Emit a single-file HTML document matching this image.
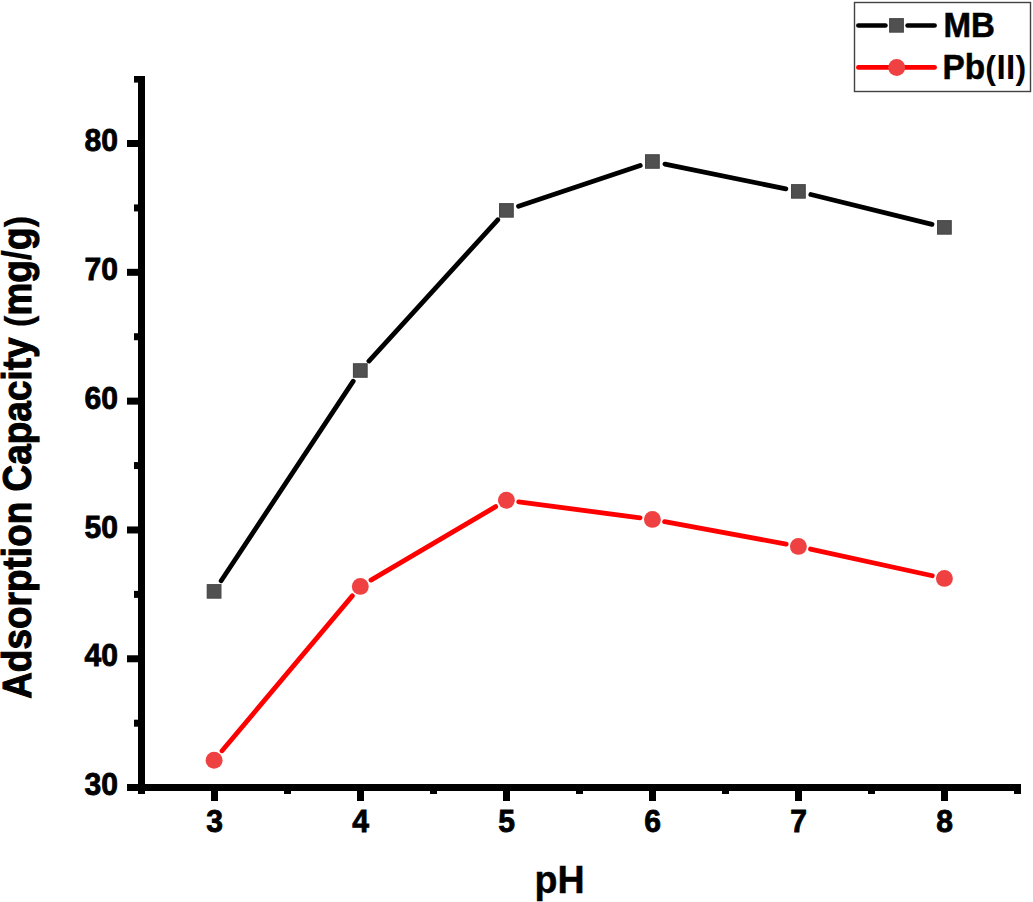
<!DOCTYPE html>
<html><head><meta charset="utf-8"><title>Adsorption Capacity vs pH</title>
<style>html,body{margin:0;padding:0;background:#fff;width:1033px;height:902px;overflow:hidden}svg{display:block}</style>
</head><body>
<svg width="1033" height="902" viewBox="0 0 1033 902">
<rect width="1033" height="902" fill="#fff"/>
<g fill="#000">
<rect x="138" y="76" width="7" height="718"/>
<rect x="138" y="784" width="883" height="7"/>
<rect x="127" y="784" width="11" height="7"/>
<rect x="127" y="655.28" width="11" height="7"/>
<rect x="127" y="526.46" width="11" height="7"/>
<rect x="127" y="397.64" width="11" height="7"/>
<rect x="127" y="268.82" width="11" height="7"/>
<rect x="127" y="140.00" width="11" height="7"/>
<rect x="134" y="719.69" width="4" height="7"/>
<rect x="134" y="590.87" width="4" height="7"/>
<rect x="134" y="462.05" width="4" height="7"/>
<rect x="134" y="333.23" width="4" height="7"/>
<rect x="134" y="204.41" width="4" height="7"/>
<rect x="134" y="76" width="4" height="6.6"/>
<rect x="211.00" y="791" width="7" height="10"/>
<rect x="357.00" y="791" width="7" height="10"/>
<rect x="503.00" y="791" width="7" height="10"/>
<rect x="649.00" y="791" width="7" height="10"/>
<rect x="795.00" y="791" width="7" height="10"/>
<rect x="941.00" y="791" width="7" height="10"/>
<rect x="138.00" y="791" width="7" height="3"/>
<rect x="284.00" y="791" width="7" height="3"/>
<rect x="430.00" y="791" width="7" height="3"/>
<rect x="576.00" y="791" width="7" height="3"/>
<rect x="722.00" y="791" width="7" height="3"/>
<rect x="868.00" y="791" width="7" height="3"/>
<rect x="1014.00" y="791" width="7" height="3"/>
</g>
<g font-family="Liberation Sans, sans-serif" font-weight="bold" font-size="30.1" fill="#000" stroke="#000" stroke-width="0.8">
<text text-anchor="end" transform="translate(117.9,795.20) scale(1,1.05)">30</text>
<text text-anchor="end" transform="translate(117.9,666.38) scale(1,1.05)">40</text>
<text text-anchor="end" transform="translate(117.9,537.56) scale(1,1.05)">50</text>
<text text-anchor="end" transform="translate(117.9,408.74) scale(1,1.05)">60</text>
<text text-anchor="end" transform="translate(117.9,279.92) scale(1,1.05)">70</text>
<text text-anchor="end" transform="translate(117.9,151.10) scale(1,1.05)">80</text>
<text text-anchor="middle" transform="translate(214.50,832.3) scale(1,1.05)">3</text>
<text text-anchor="middle" transform="translate(360.50,832.3) scale(1,1.05)">4</text>
<text text-anchor="middle" transform="translate(506.50,832.3) scale(1,1.05)">5</text>
<text text-anchor="middle" transform="translate(652.50,832.3) scale(1,1.05)">6</text>
<text text-anchor="middle" transform="translate(798.50,832.3) scale(1,1.05)">7</text>
<text text-anchor="middle" transform="translate(944.50,832.3) scale(1,1.05)">8</text>
</g>
<text font-family="Liberation Sans, sans-serif" font-weight="bold" font-size="37.6" stroke="#000" stroke-width="0.4" transform="translate(534.6,892.6) scale(1,1.035)">pH</text>
<text font-family="Liberation Sans, sans-serif" font-weight="bold" font-size="36.8" stroke="#000" stroke-width="1" letter-spacing="0.09" transform="translate(30.6,698.8) rotate(-90) scale(1,1.10)">Adsorption Capacity <tspan font-size="34" stroke-width="0.3">(</tspan>mg<tspan stroke-width="0.2">/</tspan>g<tspan font-size="34" stroke-width="0.3">)</tspan></text>
<g fill="none" stroke-linecap="round" stroke-width="4.8">
<line x1="221.16" y1="580.73" x2="353.24" y2="381.17" stroke="#000"/>
<line x1="368.93" y1="361.05" x2="497.77" y2="219.85" stroke="#000"/>
<line x1="518.54" y1="206.33" x2="640.26" y2="165.57" stroke="#000"/>
<line x1="664.94" y1="164.07" x2="785.86" y2="188.83" stroke="#000"/>
<line x1="810.83" y1="194.46" x2="931.97" y2="224.34" stroke="#000"/>
<line x1="222.08" y1="750.81" x2="352.32" y2="595.89" stroke="#f00"/>
<line x1="370.98" y1="580.10" x2="495.72" y2="506.60" stroke="#f00"/>
<line x1="518.70" y1="501.91" x2="640.10" y2="517.79" stroke="#f00"/>
<line x1="664.59" y1="521.65" x2="786.21" y2="544.15" stroke="#f00"/>
<line x1="810.51" y1="549.05" x2="932.29" y2="575.75" stroke="#f00"/>
</g>
<rect x="207.30" y="584.70" width="13.6" height="13.4" fill="#505050" stroke="#484848" stroke-width="1.2"/>
<rect x="353.50" y="363.80" width="13.6" height="13.4" fill="#505050" stroke="#484848" stroke-width="1.2"/>
<rect x="499.60" y="203.70" width="13.6" height="13.4" fill="#505050" stroke="#484848" stroke-width="1.2"/>
<rect x="645.60" y="154.80" width="13.6" height="13.4" fill="#505050" stroke="#484848" stroke-width="1.2"/>
<rect x="791.60" y="184.70" width="13.6" height="13.4" fill="#505050" stroke="#484848" stroke-width="1.2"/>
<rect x="937.60" y="220.70" width="13.6" height="13.4" fill="#505050" stroke="#484848" stroke-width="1.2"/>
<circle cx="214.10" cy="760.30" r="8.45" fill="#ef4141"/>
<circle cx="360.30" cy="586.40" r="8.45" fill="#ef4141"/>
<circle cx="506.40" cy="500.30" r="8.45" fill="#ef4141"/>
<circle cx="652.40" cy="519.40" r="8.45" fill="#ef4141"/>
<circle cx="798.40" cy="546.40" r="8.45" fill="#ef4141"/>
<circle cx="944.40" cy="578.40" r="8.45" fill="#ef4141"/>
<rect x="854.5" y="2.5" width="176" height="89" fill="#fff" stroke="#424242" stroke-width="1.4"/>
<g stroke-linecap="round" stroke-width="4.7">
<line x1="858.4" y1="25.5" x2="885.4" y2="25.5" stroke="#000"/>
<line x1="907.6" y1="25.5" x2="934.6" y2="25.5" stroke="#000"/>
<line x1="858.4" y1="67.4" x2="934.6" y2="67.4" stroke="#f00"/>
</g>
<rect x="889.7" y="18.7" width="13.6" height="13.4" fill="#505050" stroke="#484848" stroke-width="1.2"/>
<circle cx="896.7" cy="67.4" r="8.5" fill="#ef4141"/>
<text font-family="Liberation Sans, sans-serif" font-weight="bold" font-size="33.1" stroke="#000" stroke-width="0.5" transform="translate(943.4,36.8) scale(1,1.04)">MB</text>
<text font-family="Liberation Sans, sans-serif" font-weight="bold" font-size="33.4" stroke="#000" stroke-width="0.5" transform="translate(942.6,78.7) scale(1,1.03)">Pb<tspan font-size="32" stroke-width="0">(</tspan><tspan dx="0.7" stroke-width="0" letter-spacing="0.2">II</tspan><tspan font-size="32" stroke-width="0">)</tspan></text>
</svg>
</body></html>
